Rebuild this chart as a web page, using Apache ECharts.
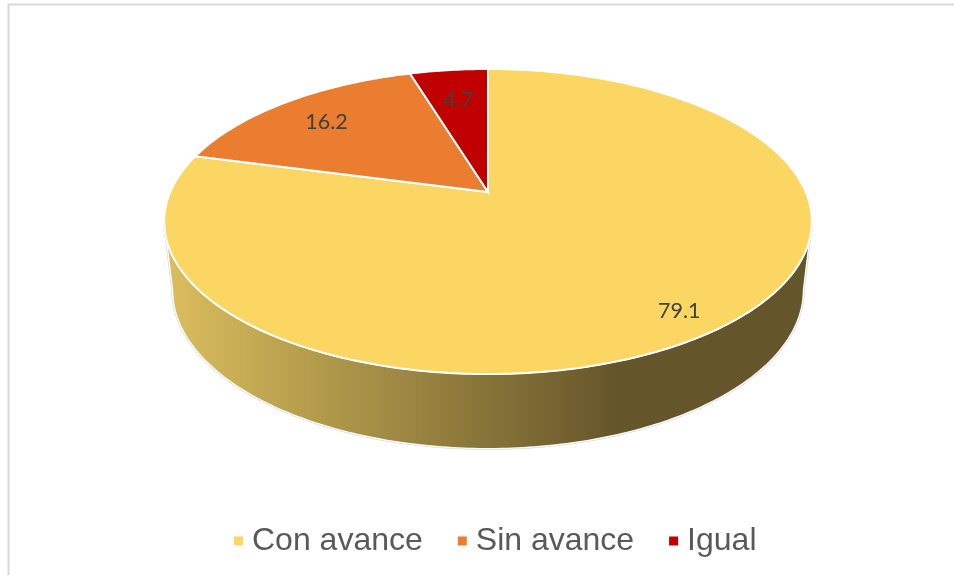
<!DOCTYPE html>
<html><head><meta charset="utf-8">
<style>html,body{margin:0;padding:0;background:#fff}#c{width:954px;height:575px}</style>
<script src="https://cdn.jsdelivr.net/npm/echarts@6/dist/echarts.min.js"></script>
</head><body><div id="c"></div>
<script>
const categories = ['Con avance', 'Sin avance', 'Igual'];
const values = [79.1, 16.2, 4.7];
const labelTexts = ['79.1', '16.2', '4.7'];
const colors = ['#FBD663', '#EB7D31', '#C00000'];
const labelRadius = [0.835, 0.80, 0.76];
const labelNudgeY = [4.5, 2, 1];

const total = values.reduce((a, b) => a + b, 0);
const persp = 0.1935;
const top3d = { cx: 488, cy: 192, a: 317.7, b: 146.8 };
const bottom3d = { cx: 488, cy: 259.3, a: 309.5, b: 152.7 };
const silhouette = Math.acos(-persp);           // angle of the widest point of the projected disc

function pt(e, th, t) {
  const k = t === undefined ? 1 : t;
  const d = 1 + persp * Math.cos(th);
  return [e.cx + k * e.a * Math.sin(th) / d, e.cy - k * e.b * Math.cos(th) / d];
}
function arc(e, a0, a1) {
  const n = Math.max(2, Math.ceil(Math.abs(a1 - a0) * 70));
  const out = [];
  for (let i = 0; i <= n; i++) out.push(pt(e, a0 + (a1 - a0) * i / n));
  return out;
}
const wallFill = {
  type: 'linear', global: true, x: 165, y: 0, x2: 812, y2: 0,
  colorStops: [
    { offset: 0, color: '#DBBE5D' },
    { offset: 0.70, color: '#65552A' },
    { offset: 1, color: '#65552A' }
  ]
};
function renderSlice(params, api) {
  const idx = params.seriesIndex;
  let before = 0;
  for (let i = 0; i < idx; i++) before += values[i];
  const v = api.value(0);
  const a0 = before / total * 2 * Math.PI;
  const a1 = (before + v) / total * 2 * Math.PI;
  const children = [];
  const w0 = Math.max(a0, silhouette), w1 = Math.min(a1, 2 * Math.PI - silhouette);
  if (w1 > w0) {
    const pts = arc(top3d, w0, w1).reverse().concat(arc(bottom3d, w0, w1));
    children.push({ type: 'polygon', shape: { points: pts },
      style: { fill: wallFill, stroke: '#cfcfcf', lineWidth: 2.4, lineJoin: 'round' } });
    children.push({ type: 'polygon', shape: { points: pts },
      style: { fill: wallFill, stroke: '#ffffff', lineWidth: 1.4, lineJoin: 'round' } });
  }
  const rim = arc(top3d, a0, a1);
  children.push({ type: 'polygon', shape: { points: [[top3d.cx, top3d.cy]].concat(rim) },
    style: { fill: colors[idx], stroke: '#ffffff', lineWidth: 2, lineJoin: 'miter' } });
  const mid = (a0 + a1) / 2;
  const lp = pt(top3d, mid, labelRadius[idx]);
  children.push({ type: 'text', z2: 10, style: {
    x: lp[0], y: lp[1] + labelNudgeY[idx], text: labelTexts[idx], align: 'center', verticalAlign: 'middle',
    font: '400 21.5px Lato, "Open Sans", sans-serif', fill: '#404040' } });
  return { type: 'group', children };
}
const chart = echarts.init(document.getElementById('c'), null, { renderer: 'canvas' });
chart.setOption({
  animation: false,
  backgroundColor: '#ffffff',
  color: colors,
  legend: {
    data: categories, left: 229, top: 520, icon: 'rect', itemWidth: 9, itemHeight: 9, itemGap: 35,
    selectedMode: false,
    textStyle: { fontFamily: '"Liberation Sans", Arial, sans-serif', fontSize: 32, color: '#595959', padding: [0, 0, 0, 4] }
  },
  graphic: [{
    type: 'polyline', silent: true, z: -1,
    shape: { points: [[8.5, 575], [8.5, 4.5], [954, 4.5]] },
    style: { stroke: '#D9D9D9', lineWidth: 2, fill: 'none' }
  }],
  series: categories.map((name, i) => ({
    type: 'custom', name, coordinateSystem: 'none', silent: true,
    itemStyle: { color: colors[i] },
    renderItem: renderSlice,
    data: [[values[i]]]
  }))
});
</script></body></html>
